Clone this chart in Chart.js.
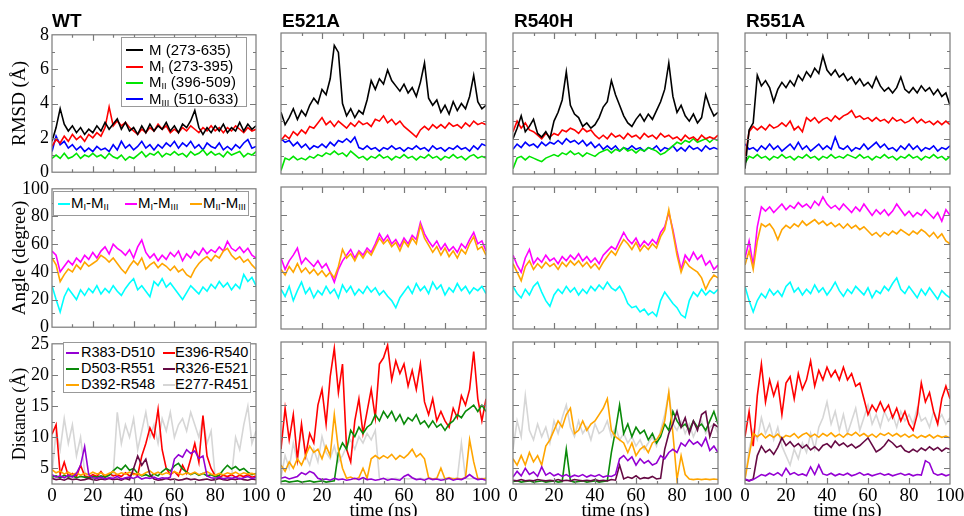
<!DOCTYPE html>
<html>
<head>
<meta charset="utf-8">
<script src="https://cdn.jsdelivr.net/npm/chart.js@4"></script>
<style>
  body { margin: 0; background: #fff; }
  #stage { position: relative; width: 964px; height: 516px; overflow: hidden; background: #fff; }
  .ptitle { position: absolute; font: bold 19px "Liberation Sans", Arial, sans-serif; line-height: 19px; color: #000; }
  .legend { position: absolute; border: 1px solid #999; background: #fff; box-sizing: border-box;
            font-family: "Liberation Sans", Arial, sans-serif; color: #000; }
  .legend .sw { position: absolute; height: 2px; }
  .legend .tx { position: absolute; white-space: nowrap; line-height: 1; }
  .legend sub { font-size: 0.62em; vertical-align: -0.2em; line-height: 0; }
</style>
</head>
<body>
<div id="stage"></div>
<script>
// time axis, ns
const TIME = [0,2,4,6,8,10,12,14,16,18,20,22,24,26,28,30,32,34,36,38,40,42,44,46,48,50,
  52,54,56,58,60,62,64,66,68,70,72,74,76,78,80,82,84,86,88,90,92,94,96,98,100];

const PANEL_NAMES = ["WT", "E521A", "R540H", "R551A"];

// ---- RMSD (Å) ----
const wtM    = [1.8,2.6,3.7,2.8,2.4,2.7,2.3,2.6,2.2,2.5, 2.3,2.7,2.4,2.9,2.5,2.8,3.1,2.5,2.9,2.4, 2.6,2.2,2.7,2.3,2.8,2.4,2.7,2.5,2.9,2.4, 2.7,2.3,2.8,2.6,3.0,3.6,2.6,2.2,2.6,2.3, 2.7,2.4,2.8,2.3,2.6,2.4,2.9,2.4,2.8,2.5,2.7];
const wtMI   = [1.5,1.9,1.7,2.1,1.8,2.2,1.9,2.1,1.8,2.2, 2.0,2.3,2.1,2.6,3.8,2.7,3.0,2.7,2.9,2.6, 2.4,2.2,2.5,2.3,2.6,2.4,2.8,2.5,2.7,2.3, 2.5,2.3,2.6,2.4,2.7,2.5,2.3,2.6,2.4,2.7, 2.4,2.6,2.3,2.6,2.4,2.7,2.5,2.3,2.6,2.4,2.5];
const wtMII  = [0.8,1.0,0.8,1.1,0.8,0.9,1.1,0.8,1.0,0.9, 1.1,0.9,1.0,0.8,1.1,0.9,0.8,1.0,0.7,0.9, 0.8,1.0,1.2,0.9,1.1,1.0,1.2,0.9,1.1,1.0, 1.2,1.0,1.1,0.9,1.2,1.0,1.1,1.3,1.0,1.2, 1.0,1.1,0.9,1.2,1.0,1.1,1.2,0.9,1.1,1.0,1.2];
const wtMIII = [1.2,2.1,1.6,1.8,1.4,1.6,1.3,1.5,1.2,1.4, 1.2,1.5,1.3,1.4,1.2,1.6,1.3,1.8,1.4,1.6, 1.3,1.5,1.8,1.4,1.6,1.3,1.6,1.4,1.7,1.5, 1.8,1.4,1.7,1.5,1.8,1.4,1.6,1.3,1.7,1.5, 1.4,1.7,1.3,1.5,1.3,1.6,1.4,1.7,1.9,1.4,1.5];

const e521M    = [3.5,2.8,3.2,3.7,3.1,3.6,3.3,3.9,4.3,4.0, 4.8,4.5,5.4,7.3,6.9,4.0,3.3,3.7,3.2,3.6, 3.4,4.2,5.3,4.8,5.4,5.1,5.9,5.3,5.0,4.7, 5.1,4.6,4.9,4.4,5.2,6.3,4.3,3.9,4.2,3.5, 3.9,3.4,4.1,3.6,4.0,3.7,4.4,5.6,4.1,3.7,3.9];
const e521MI   = [1.9,2.2,2.0,2.4,2.2,2.5,2.3,2.7,2.6,2.9, 3.2,2.8,3.0,2.7,3.0,2.8,2.6,2.9,2.7,3.0, 2.8,2.9,2.7,3.1,3.0,3.3,2.9,3.1,2.8,3.0, 2.7,2.5,2.3,2.1,2.5,2.7,2.5,2.8,2.6,2.8, 2.6,2.9,2.7,2.8,2.6,2.9,2.7,3.0,2.8,2.9,2.8];
const e521MII  = [0.2,0.9,0.8,1.0,0.8,0.9,0.8,1.0,0.9,1.1, 1.0,1.2,1.1,1.3,1.1,1.2,1.0,1.3,1.1,0.9, 1.0,0.8,1.0,0.9,1.1,0.9,1.0,0.8,1.0,0.9, 1.1,0.9,1.0,0.8,1.0,0.9,1.1,0.9,1.0,0.8, 1.0,0.9,1.1,0.9,1.0,0.8,1.0,1.1,0.9,1.0,0.9];
const e521MIII = [2.0,1.8,1.9,1.6,1.8,1.5,1.7,1.4,1.6,1.5, 1.7,1.5,1.8,1.6,1.9,1.8,2.0,1.8,2.1,1.5, 1.4,1.6,1.4,1.5,1.3,1.5,1.4,1.6,1.4,1.5, 1.3,1.5,1.4,1.6,1.4,1.5,1.3,1.6,1.4,1.5, 1.3,1.5,1.4,1.6,1.4,1.5,1.3,1.6,1.4,1.7,1.6];

const r540M    = [2.0,2.6,3.3,2.4,2.7,3.1,2.3,2.1,2.4,2.0, 3.0,3.5,4.2,5.8,3.9,3.4,3.2,2.7,2.9,2.6, 2.8,3.2,3.8,4.1,5.3,4.5,3.9,3.3,2.9,2.7, 3.1,3.4,3.0,3.4,3.1,3.6,4.1,4.8,6.3,4.4, 3.5,3.9,3.3,3.0,3.4,2.9,3.2,4.5,3.8,3.3,3.5];
const r540MI   = [2.4,3.0,2.6,2.9,2.5,2.4,2.2,2.0,2.3,2.1, 2.3,2.2,2.5,2.4,2.6,2.5,2.3,2.6,2.4,2.5, 2.2,2.0,2.2,2.0,2.3,2.1,2.2,2.0,2.3,2.1, 2.2,2.0,2.3,2.1,2.2,2.0,2.3,2.1,2.2,2.0, 2.1,1.9,2.2,2.0,2.1,1.9,2.2,2.0,2.1,2.0,2.2];
const r540MII  = [0.3,0.9,1.0,0.8,1.0,0.9,0.8,0.7,0.9,1.0, 1.1,1.0,1.2,1.1,1.3,1.1,1.2,1.0,1.2,1.1, 1.0,1.2,1.3,1.4,1.2,1.4,1.3,1.5,1.3,1.4, 1.2,1.4,1.3,1.5,1.4,1.3,1.1,1.2,1.4,1.6, 1.8,1.7,1.9,1.8,2.0,1.8,1.9,2.0,1.8,2.0,1.9];
const r540MIII = [1.4,1.7,1.5,1.8,1.6,1.7,1.5,1.8,1.6,1.8, 1.7,1.9,1.7,2.0,1.8,1.9,1.7,1.9,1.6,1.8, 1.5,1.7,1.4,1.6,1.4,1.6,1.3,1.5,1.4,1.6, 1.4,1.5,1.3,1.5,1.4,1.6,1.3,1.5,1.4,1.6, 1.3,1.5,1.3,1.6,1.4,1.5,1.3,1.6,1.4,1.5,1.4];

const r551M    = [0.3,2.5,2.9,5.6,5.0,5.3,4.9,4.1,4.8,5.2, 4.9,5.3,5.0,5.6,5.3,5.8,5.5,6.0,5.7,6.7, 5.9,5.6,5.9,5.5,5.7,5.3,5.5,5.1,5.4,5.0, 5.2,4.9,5.5,5.0,4.7,4.9,4.6,4.9,5.5,4.8, 4.6,4.9,4.6,5.0,4.7,4.9,4.5,4.8,4.4,4.6,3.9];
const r551MI   = [0.9,2.4,2.7,2.5,2.7,2.5,2.8,2.6,2.7,2.9, 2.7,3.0,2.5,2.7,2.4,3.2,3.0,3.2,2.9,3.1, 3.2,3.0,3.3,3.1,3.3,3.4,3.6,3.2,3.3,3.1, 3.2,3.0,3.2,3.0,3.1,2.9,3.2,3.0,3.1,2.9, 3.0,3.2,2.9,3.1,2.9,3.0,2.8,3.0,2.8,3.0,2.8];
const r551MII  = [0.6,1.0,0.9,1.1,0.9,1.0,0.8,1.0,0.9,1.1, 0.9,1.0,0.8,1.0,0.9,1.1,0.9,1.0,0.8,1.0, 0.9,1.1,0.9,1.0,0.9,1.1,1.0,0.9,1.1,0.9, 1.0,0.8,1.0,0.9,1.1,0.9,1.0,0.8,1.0,0.9, 1.1,0.9,1.0,0.8,1.0,0.9,1.1,0.9,1.0,0.8,1.0];
const r551MIII = [1.7,1.4,1.5,1.3,1.6,1.4,1.7,1.4,1.6,1.3, 1.5,1.7,1.4,1.8,1.4,1.6,1.3,1.5,1.7,1.4, 1.6,1.4,2.1,1.5,1.4,1.6,1.3,1.5,1.4,1.7, 1.4,1.6,1.8,1.5,1.7,1.4,1.5,1.3,1.6,1.4, 1.7,1.4,1.6,1.3,1.5,1.4,1.6,1.3,1.5,1.4,1.6];

// ---- Angle (degree) ----
const wtA12 = [30,20,11,22,28,24,20,27,23,28, 25,30,24,28,25,30,26,23,28,32, 35,27,30,26,22,33,30,35,29,32, 28,24,20,25,30,27,24,29,26,31, 28,33,29,32,27,31,28,38,33,36,30];
const wtA13 = [55,52,40,44,48,45,50,47,52,49, 54,50,55,58,53,60,57,55,52,56, 50,58,63,54,50,53,48,52,49,54, 51,55,48,53,50,55,52,57,53,56, 54,58,55,62,57,55,58,54,57,52,50];
const wtA23 = [50,45,33,38,42,40,45,42,47,44, 46,48,52,50,47,50,46,42,39,44, 48,45,50,42,45,47,43,46,44,41, 44,40,42,38,36,42,46,49,51,48, 52,50,55,57,52,49,51,47,49,45,42];

const e521A12 = [28,23,30,20,27,33,25,29,22,27, 24,30,25,28,22,31,26,30,24,28, 25,30,26,29,24,27,23,20,15,22, 26,30,25,32,27,30,25,33,28,31, 24,29,26,32,27,30,25,29,27,30,25];
const e521A13 = [50,42,48,52,57,46,50,47,44,48, 43,46,40,33,42,48,52,56,50,55, 52,57,54,60,67,62,66,60,63,58, 64,60,66,63,75,67,62,58,62,56, 60,55,58,54,60,57,63,68,60,62,55];
const e521A23 = [42,38,44,40,46,40,43,39,42,38, 41,37,40,36,44,56,50,53,48,54, 50,55,52,58,64,60,63,58,61,55, 62,58,64,60,73,64,59,54,58,52, 57,51,55,50,56,53,60,65,56,58,52];

const r540A12 = [30,25,22,28,24,30,33,26,20,16, 24,28,25,30,26,29,24,28,25,30, 27,31,28,33,29,27,30,25,18,15, 16,12,14,10,12,9,20,26,22,18, 15,10,8,20,26,23,28,24,27,25,28];
const r540A13 = [52,45,40,50,56,46,50,47,52,48, 50,46,51,48,52,49,53,48,51,47, 50,46,52,55,58,56,62,68,63,60, 64,58,62,59,63,60,68,72,82,70, 55,42,52,48,54,49,52,45,48,42,45];
const r540A23 = [46,40,34,44,48,42,46,43,47,44, 46,42,47,44,48,45,48,44,47,43, 46,42,47,51,55,52,58,63,60,56, 61,55,59,56,60,57,65,70,84,68, 52,40,48,44,42,40,36,28,34,38,36];

const r551A12 = [30,20,12,20,25,22,28,24,27,23, 30,33,26,29,24,28,25,31,26,29, 24,28,33,27,23,28,25,30,27,24, 29,22,27,25,30,27,32,36,28,25, 30,26,22,28,24,29,25,21,27,24,22];
const r551A13 = [50,62,45,72,86,83,86,82,85,88, 84,87,85,89,86,88,85,90,87,93, 88,85,87,84,88,85,82,86,83,88, 84,80,84,81,84,80,83,88,84,80, 83,79,82,80,84,81,78,82,76,84,80];
const r551A23 = [45,55,42,62,74,72,74,70,63,70, 73,71,74,72,76,73,75,77,74,76, 73,75,72,74,71,74,71,73,70,72, 69,66,68,65,68,66,69,67,70,68, 66,69,67,70,68,65,68,64,67,62,60];

// ---- Distance (Å) ----  (a pair missing in a mutant is left out)
const wtR383 = [4.0,3.6,3.8,3.5,3.9,3.6,4.2,5.5,8.5,4.0, 3.5,3.4,3.6,3.3,3.5,3.4,3.7,3.3,3.5,3.6, 3.4,3.7,3.3,3.5,3.4,3.6,3.3,3.5,3.4,3.6, 6.5,7.2,6.8,8.0,7.4,7.8,6.6,7.0,3.8,3.5, 3.4,3.6,3.3,3.5,3.4,3.6,3.3,3.5,3.7,3.4,3.6];
const wtE396 = [10.5,12.0,4.0,6.0,3.8,4.2,3.7,5.5,3.8,3.6, 4.0,3.7,4.5,3.6,4.2,3.8,4.0,3.7,4.3,3.8, 4.2,3.9,7.0,9.0,11.5,10.0,14.5,8.0,5.0,4.0, 4.5,3.8,5.5,4.2,6.5,9.0,6.0,13.5,7.0,5.0, 3.8,3.6,3.9,3.7,4.0,3.6,3.9,3.7,4.0,3.6,3.8];
const wtD503 = [3.6,3.8,3.5,3.9,3.6,3.8,3.5,3.7,3.6,3.5, 3.7,3.6,3.8,3.6,3.9,4.6,5.2,4.8,5.5,4.7, 5.0,4.2,3.8,4.0,3.7,4.1,3.8,4.5,5.0,4.6, 5.4,5.8,4.9,4.4,4.0,4.3,3.9,4.2,3.8,4.0, 3.7,3.9,4.8,5.5,4.9,5.3,4.7,5.0,4.4,4.0,4.2];
const wtR326 = [3.4,3.2,3.3,3.1,3.4,3.2,3.3,3.1,3.2,3.4, 3.2,3.1,3.3,3.2,3.4,3.2,3.3,3.1,3.4,3.2, 5.0,7.0,5.5,6.5,4.0,3.3,3.1,3.2,3.4,3.2, 3.3,3.1,3.2,3.4,3.2,3.3,3.1,3.2,3.3,3.1, 3.2,3.4,3.2,3.1,3.3,3.2,3.4,3.2,3.1,3.3,3.2];
const wtD392 = [4.8,4.3,4.6,4.1,4.4,4.0,4.3,3.9,4.2,4.0, 4.4,4.1,4.3,3.9,4.2,4.5,4.0,4.3,4.1,4.4, 4.0,4.2,3.9,4.3,4.6,4.1,4.4,4.0,4.3,4.1, 4.5,4.2,4.0,4.3,4.1,4.4,4.0,4.2,4.5,4.1, 3.9,4.2,4.0,4.3,4.1,4.4,4.0,4.3,4.1,4.2,4.0];
const wtE277 = [4.0,11.0,8.0,13.0,9.0,12.0,7.0,10.0,4.5,3.5, 3.4,3.6,3.3,3.5,3.4,4.0,14.0,9.0,12.0,10.0, 13.0,8.0,11.0,14.0,10.0,12.0,9.0,13.0,11.0,14.0, 10.0,12.0,13.0,11.0,14.0,12.0,10.0,13.0,9.0,11.0, 3.6,3.4,3.5,3.4,3.6,10.0,8.0,12.0,15.0,9.0,11.0];

const e521R383 = [3.4,3.6,3.3,3.5,3.7,4.3,4.0,4.5,4.2,3.4, 3.2,3.3,3.1,3.4,3.2,3.3,3.1,3.2,3.4,3.2, 3.5,3.2,3.3,3.1,3.2,3.4,3.1,3.3,3.2,3.1, 3.7,4.0,3.5,3.2,3.3,3.1,3.4,3.2,3.3,3.1, 3.2,3.4,3.1,3.3,3.2,3.5,4.0,3.5,3.2,3.3,3.1];
const e521E396 = [8.0,14.5,9.5,13.5,6.5,12.0,7.0,10.5,9.0,15.0, 17.5,12.0,19.5,24.0,17.0,21.5,8.0,6.0,12.5,16.0, 10.5,14.0,17.5,13.0,21.5,22.5,24.5,19.0,22.0,20.0, 21.5,18.0,20.5,17.5,21.5,15.5,13.5,16.0,12.5,14.0, 12.5,11.5,14.5,13.0,16.5,15.0,17.5,23.5,16.0,12.5,16.0];
const e521D503 = [2.9,3.0,2.8,2.9,3.0,2.8,2.9,3.0,2.8,2.9, 3.0,2.8,2.9,3.0,7.5,9.0,8.0,11.0,10.0,11.5, 10.5,11.5,12.0,13.5,12.5,14.0,13.0,14.0,12.5,13.5, 12.0,13.0,12.5,13.5,12.0,12.5,11.5,12.5,11.5,12.0, 11.0,12.0,12.5,13.5,13.0,14.0,14.5,15.0,14.0,15.0,14.0];
const e521D392 = [5.5,4.5,6.0,5.0,6.5,5.5,7.0,8.5,7.5,8.0, 6.5,8.5,7.0,13.5,8.0,5.0,3.4,3.6,3.3,3.5, 5.0,3.4,6.5,7.0,6.5,7.0,6.6,7.2,6.4,7.0, 6.6,7.2,8.0,6.8,7.3,6.5,3.5,3.3,3.4,5.0, 3.3,3.5,3.3,3.4,3.3,3.5,9.5,6.0,3.4,3.3,3.4];
const e521E277 = [3.5,7.0,5.0,9.0,6.0,11.5,7.0,5.5,8.0,6.0, 10.0,7.5,6.5,8.5,6.0,7.0,8.5,9.5,8.0,10.0, 9.0,10.5,9.5,11.0,3.4,3.3,3.4,3.3,3.4,3.3, 3.4,3.3,3.4,3.3,3.4,3.3,3.4,3.3,3.4,3.3, 3.4,3.3,3.4,3.3,9.0,3.4,3.3,3.4,3.3,3.4,3.3];

const r540R383 = [3.6,4.5,3.8,5.0,4.0,4.4,3.7,5.2,3.9,4.3, 3.8,4.1,3.7,4.0,3.6,3.9,3.7,4.0,3.6,3.9, 3.7,4.0,3.6,3.8,3.7,4.0,6.5,7.0,6.2,6.8, 5.5,6.5,5.8,6.2,5.5,5.8,7.0,6.5,7.5,8.0, 7.5,9.0,8.5,9.5,8.8,9.2,8.5,9.8,7.8,8.5,7.5];
const r540D503 = [2.9,3.0,2.8,2.9,3.0,2.8,2.9,3.0,2.8,2.9, 3.0,2.8,2.9,8.0,3.0,2.8,2.9,3.0,2.8,2.9, 3.0,2.8,2.9,3.0,7.5,11.0,15.0,10.5,12.0,10.0, 11.5,10.5,11.0,9.5,10.5,9.0,10.0,12.0,11.0,14.0, 12.5,11.5,12.0,11.0,12.5,11.5,12.0,11.0,12.5,14.0,12.0];
const r540R326 = [3.1,3.0,3.2,3.0,3.1,3.0,3.2,3.1,3.0,3.1, 3.0,3.2,3.0,3.1,3.0,3.2,3.1,3.0,3.1,3.0, 3.2,3.0,3.1,3.0,3.2,3.1,5.5,3.3,3.6,3.4, 3.8,3.3,3.5,3.4,3.7,3.3,3.4,8.0,10.5,12.0, 14.0,11.5,13.0,10.5,12.5,11.0,13.5,14.0,10.0,12.0,11.5];
const r540D392 = [6.5,5.5,7.0,5.5,7.5,6.0,7.0,5.5,8.5,9.5, 11.0,12.5,11.5,13.5,14.5,10.5,11.0,12.5,11.0,12.0, 12.5,13.5,14.5,16.0,11.0,10.0,9.5,9.0,7.5,9.0, 7.0,8.0,8.5,7.5,9.0,9.5,10.5,12.5,17.0,10.5, 3.2,7.0,4.0,3.3,3.2,3.3,3.2,3.3,3.2,3.3,3.2];
const r540E277 = [8.0,12.5,10.0,16.5,11.0,9.5,12.0,10.0,11.5,9.0, 12.5,10.5,13.0,15.0,11.5,10.0,12.5,10.5,11.5,9.5, 12.0,10.5,11.0,12.5,10.0,11.5,9.5,10.5,9.0,10.0, 8.5,9.5,8.0,9.0,10.0,8.5,11.0,13.5,17.0,12.0, 11.0,12.5,10.5,12.0,10.0,11.5,12.5,10.5,11.5,12.0,10.5];

const r551R383 = [3.3,3.0,3.2,3.6,4.0,3.8,4.2,3.9,4.3,3.8, 5.0,4.0,4.3,3.9,4.1,3.8,5.2,4.0,5.5,4.1, 3.9,4.2,3.8,4.1,3.9,4.2,3.8,4.0,4.3,3.9, 4.1,3.8,4.0,4.2,3.9,4.1,3.8,4.0,4.2,3.9, 4.1,3.8,4.0,3.9,6.2,5.8,4.2,3.9,4.1,3.8,4.0];
const r551E396 = [10.0,14.0,8.5,16.5,21.5,15.5,19.0,16.5,18.5,13.5, 18.5,19.5,16.0,20.0,17.5,19.0,22.0,18.0,20.5,19.0, 21.0,19.5,20.5,19.0,21.0,19.0,20.0,18.0,18.5,16.0, 13.5,15.0,14.0,15.5,14.0,15.0,13.0,14.5,12.5,14.0, 12.0,11.0,13.5,18.5,15.5,17.0,14.0,12.0,16.0,18.0,16.0];
const r551R326 = [3.2,3.0,3.3,7.0,8.5,7.5,8.0,7.2,8.3,9.8, 8.6,9.2,8.4,8.9,8.2,8.7,7.9,8.4,7.8,8.6, 8.9,8.3,9.3,8.6,9.0,8.4,8.8,8.2,8.6,9.2, 9.8,8.7,7.6,8.0,8.6,9.5,9.0,8.3,8.6,7.8, 7.5,8.0,7.6,8.2,7.8,8.4,7.9,8.3,7.7,8.2,8.0];
const r551D392 = [3.3,7.0,10.5,10.0,10.5,9.8,10.3,9.9,10.4,9.7, 10.2,10.0,10.5,9.8,10.3,10.6,10.0,10.4,9.9,10.5, 10.1,10.6,10.0,10.4,9.9,10.5,10.2,10.7,10.1,10.5, 10.0,10.4,9.9,10.5,10.2,10.6,10.1,10.5,10.0,10.4, 9.9,10.3,9.8,10.2,9.9,10.3,9.8,10.2,9.9,10.1,9.8];
const r551E277 = [3.3,8.0,11.0,9.5,13.0,10.5,12.0,9.5,11.5,8.5, 7.0,5.5,8.0,6.5,9.0,7.5,10.5,8.0,11.5,13.0, 15.5,12.0,14.0,11.0,13.5,10.5,12.5,14.5,11.0,13.0, 15.0,12.0,13.5,11.5,14.0,12.5,13.5,11.5,14.0,12.5, 13.5,12.0,14.5,12.5,13.0,11.5,14.0,12.5,13.5,12.0,13.0];

// axis ticks
const X_MAJOR = [0,20,40,60,80,100];
const X_MINOR = [10,30,50,70,90];
const RMSD_MAJOR = [0,2,4,6,8], RMSD_MINOR = [1,3,5,7];
const ANGLE_MAJOR = [0,20,40,60,80,100], ANGLE_MINOR = [10,30,50,70,90];
const DIST_MAJOR = [5,10,15,20,25], DIST_MINOR = [2.5,7.5,12.5,17.5,22.5];

// colours
const C = {
  black: "#000000", red: "#ff0000", green: "#00e600", blue: "#0000ff",
  cyan: "#00ffff", magenta: "#ff00ff", orange: "#ffa500",
  purple: "#9400d3", dgreen: "#0a8a0a", maroon: "#660a44", gray: "#d6d6d6"
};

// panel geometry (plot area in page pixels)
const COL_X = [[52,256],[281,486],[513,718],[745,950]];
const ROW_Y = [[33,174],[187,329],[342,484]];

const ROWS = [
  { min: 0, max: 8, major: RMSD_MAJOR, minor: RMSD_MINOR, title: "RMSD (Å)", tsize: 19,
    series: [
      [[wtM,C.black],[wtMI,C.red],[wtMII,C.green],[wtMIII,C.blue]],
      [[e521M,C.black],[e521MI,C.red],[e521MII,C.green],[e521MIII,C.blue]],
      [[r540M,C.black],[r540MI,C.red],[r540MII,C.green],[r540MIII,C.blue]],
      [[r551M,C.black],[r551MI,C.red],[r551MII,C.green],[r551MIII,C.blue]]
    ] },
  { min: 0, max: 100, major: ANGLE_MAJOR, minor: ANGLE_MINOR, title: "Angle (degree)", tsize: 19,
    series: [
      [[wtA23,C.orange],[wtA13,C.magenta],[wtA12,C.cyan]],
      [[e521A23,C.orange],[e521A13,C.magenta],[e521A12,C.cyan]],
      [[r540A23,C.orange],[r540A13,C.magenta],[r540A12,C.cyan]],
      [[r551A23,C.orange],[r551A13,C.magenta],[r551A12,C.cyan]]
    ] },
  { min: 2.5, max: 25, major: DIST_MAJOR, minor: DIST_MINOR, title: "Distance (Å)", tsize: 18,
    series: [
      [[wtR383,C.purple],[wtR326,C.maroon],[wtD392,C.orange],[wtD503,C.dgreen],[wtE396,C.red],[wtE277,C.gray]],
      [[e521R383,C.purple],[e521D392,C.orange],[e521D503,C.dgreen],[e521E396,C.red],[e521E277,C.gray]],
      [[r540R383,C.purple],[r540R326,C.maroon],[r540D392,C.orange],[r540D503,C.dgreen],[r540E277,C.gray]],
      [[r551R383,C.purple],[r551R326,C.maroon],[r551D392,C.orange],[r551E396,C.red],[r551E277,C.gray]]
    ] }
];

const SERIF = "'Liberation Serif', 'Times New Roman', serif";
const stage = document.getElementById("stage");

// frame + inward ticks on all four sides
const framePlugin = {
  id: "frame",
  afterDatasetsDraw(chart, args, opts) {
    const { ctx, chartArea: a, scales: { x, y } } = chart;
    ctx.save();
    ctx.strokeStyle = "#7a7a7a";
    ctx.lineWidth = 1.2;
    ctx.beginPath();
    const tx = (v, len) => {
      if (v <= x.min || v >= x.max) return;
      const p = Math.round(x.getPixelForValue(v)) + 0.5;
      ctx.moveTo(p, a.bottom); ctx.lineTo(p, a.bottom - len);
      ctx.moveTo(p, a.top); ctx.lineTo(p, a.top + len);
    };
    const ty = (v, len) => {
      if (v <= y.min || v >= y.max) return;
      const p = Math.round(y.getPixelForValue(v)) + 0.5;
      ctx.moveTo(a.left, p); ctx.lineTo(a.left + len, p);
      ctx.moveTo(a.right, p); ctx.lineTo(a.right - len, p);
    };
    X_MAJOR.forEach(v => tx(v, 6));
    X_MINOR.forEach(v => tx(v, 3));
    opts.major.forEach(v => ty(v, 6));
    opts.minor.forEach(v => ty(v, 3));
    ctx.stroke();
    ctx.strokeRect(a.left, a.top, a.right - a.left, a.bottom - a.top);
    ctx.restore();
  }
};

function makePanel(r, c) {
  const row = ROWS[r];
  const [x0, x1] = COL_X[c], [y0, y1] = ROW_Y[r];
  const isLeft = c === 0, isBottom = r === 2;
  const pl = isLeft ? 0 : 12, pr = 16, pt = 12, pb = isBottom ? 0 : 12;
  const yw = isLeft ? 52 : 0, xh = isBottom ? 40 : 0;
  const w = pl + yw + (x1 - x0) + pr, h = pt + (y1 - y0) + xh + pb;

  const cv = document.createElement("canvas");
  cv.width = w; cv.height = h;
  cv.style.cssText = `position:absolute;left:${x0 - pl - yw}px;top:${y0 - pt}px;width:${w}px;height:${h}px`;
  stage.appendChild(cv);

  const datasets = row.series[c].map(([vals, col]) => ({
    data: TIME.map((t, i) => ({ x: t, y: vals[i] })),
    borderColor: col,
    borderWidth: 1.6,
    borderJoinStyle: "miter",
    pointRadius: 0,
    tension: 0,
    fill: false
  }));

  new Chart(cv, {
    type: "line",
    data: { datasets },
    plugins: [framePlugin],
    options: {
      responsive: false,
      animation: false,
      events: [],
      layout: { padding: { left: pl, right: pr, top: pt, bottom: pb } },
      plugins: {
        legend: { display: false },
        tooltip: { enabled: false },
        frame: { major: row.major, minor: row.minor }
      },
      scales: {
        x: {
          type: "linear", min: 0, max: 100, display: isBottom,
          grid: { display: false, drawTicks: false }, border: { display: false },
          afterBuildTicks: s => { s.ticks = X_MAJOR.map(v => ({ value: v })); },
          afterFit: s => { s.height = xh; },
          ticks: { color: "#000", font: { family: SERIF, size: 19 }, padding: 1, maxRotation: 0, autoSkip: false },
          title: { display: true, text: "time (ns)", color: "#000", font: { family: SERIF, size: 19 }, padding: { top: 0, bottom: 2 } }
        },
        y: {
          type: "linear", min: row.min, max: row.max, display: isLeft,
          grid: { display: false, drawTicks: false }, border: { display: false },
          afterBuildTicks: s => { s.ticks = row.major.map(v => ({ value: v })); },
          afterFit: s => { s.width = yw; },
          ticks: { color: "#000", font: { family: SERIF, size: 18 }, padding: 3, autoSkip: false },
          title: { display: true, text: row.title, color: "#000", font: { family: SERIF, size: row.tsize }, padding: { top: 9, bottom: 0 } }
        }
      }
    }
  });
}

for (let r = 0; r < 3; r++) for (let c = 0; c < 4; c++) makePanel(r, c);

// panel titles
PANEL_NAMES.forEach((name, c) => {
  const d = document.createElement("div");
  d.className = "ptitle";
  d.textContent = name;
  d.style.left = (COL_X[c][0] + (c === 0 ? 0 : 1)) + "px";
  d.style.top = "11px";
  stage.appendChild(d);
});

// legends (HTML, for the subscripts)
function legend(box, size, items) {
  const el = document.createElement("div");
  el.className = "legend";
  Object.assign(el.style, { left: box[0] + "px", top: box[1] + "px", width: box[2] + "px", height: box[3] + "px", fontSize: size + "px" });
  items.forEach(it => {
    const sw = document.createElement("div");
    sw.className = "sw";
    Object.assign(sw.style, { left: it.sx + "px", width: it.sw + "px", top: (it.cy - 1) + "px", background: it.color });
    const tx = document.createElement("div");
    tx.className = "tx";
    tx.innerHTML = it.html;
    Object.assign(tx.style, { left: it.tx + "px", top: (it.cy - size / 2 - 1) + "px" });
    el.appendChild(sw); el.appendChild(tx);
  });
  stage.appendChild(el);
}

legend([121, 37, 126, 70], 15, [
  { color: C.black, sx: 4, sw: 17, tx: 27, cy: 12, html: "M (273-635)" },
  { color: C.red, sx: 4, sw: 17, tx: 27, cy: 28.5, html: "M<sub>I</sub> (273-395)" },
  { color: C.green, sx: 4, sw: 17, tx: 27, cy: 44.5, html: "M<sub>II</sub> (396-509)" },
  { color: C.blue, sx: 4, sw: 17, tx: 27, cy: 61, html: "M<sub>III</sub> (510-633)" }
]);

legend([53, 191, 196, 25], 15, [
  { color: C.cyan, sx: 4, sw: 12, tx: 17, cy: 11.5, html: "M<sub>I</sub>-M<sub>II</sub>" },
  { color: C.magenta, sx: 71, sw: 12, tx: 84, cy: 11.5, html: "M<sub>I</sub>-M<sub>III</sub>" },
  { color: C.orange, sx: 136, sw: 12, tx: 149, cy: 11.5, html: "M<sub>II</sub>-M<sub>III</sub>" }
]);

legend([63, 342, 188, 51], 14.5, [
  { color: C.purple, sx: 2, sw: 13, tx: 17, cy: 10, html: "R383-D510" },
  { color: C.red, sx: 99, sw: 12, tx: 111, cy: 10, html: "E396-R540" },
  { color: C.dgreen, sx: 2, sw: 13, tx: 17, cy: 26, html: "D503-R551" },
  { color: C.maroon, sx: 99, sw: 12, tx: 111, cy: 26, html: "R326-E521" },
  { color: C.orange, sx: 2, sw: 13, tx: 17, cy: 42, html: "D392-R548" },
  { color: C.gray, sx: 99, sw: 12, tx: 111, cy: 42, html: "E277-R451" }
]);
</script>
</body>
</html>
